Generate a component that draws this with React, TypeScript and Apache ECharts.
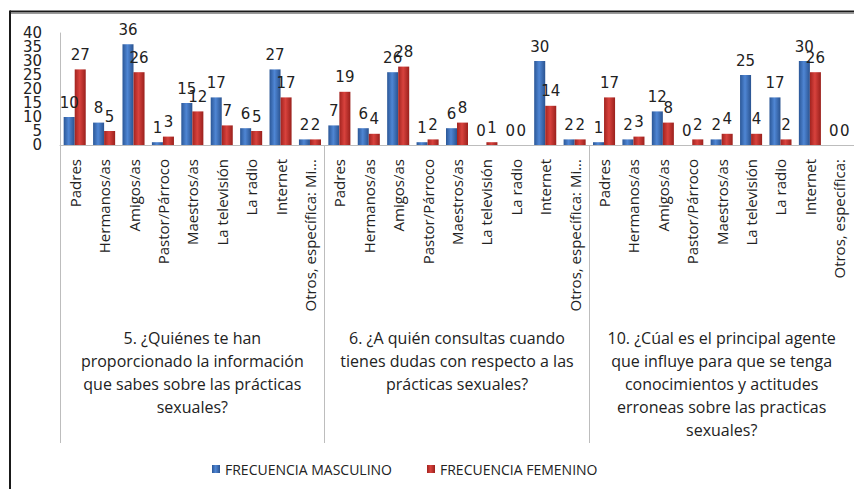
import React, { useEffect, useRef } from "react";
import * as echarts from "echarts";

const categories = [
  "Padres", "Hermanos/as", "Amigos/as", "Pastor/Párroco", "Maestros/as", "La televisión", "La radio", "Internet", "Otros, específica: Mi...",
  "Padres", "Hermanos/as", "Amigos/as", "Pastor/Párroco", "Maestros/as", "La televisión", "La radio", "Internet", "Otros, específica: Mi...",
  "Padres", "Hermanos/as", "Amigos/as", "Pastor/Párroco", "Maestros/as", "La televisión", "La radio", "Internet", "Otros, específica:",
];

const groups = [
  "5. ¿Quiénes te han\nproporcionado la información\nque sabes sobre las prácticas\nsexuales?",
  "6. ¿A quién consultas cuando\ntienes dudas con respecto a las\nprácticas sexuales?",
  "10. ¿Cúal es el principal agente\nque influye para que se tenga\nconocimientos y actitudes\nerroneas sobre las practicas\nsexuales?",
];

const masculino = [10, 8, 36, 1, 15, 17, 6, 27, 2, 7, 6, 26, 1, 6, 0, 0, 30, 2, 1, 2, 12, 0, 2, 25, 17, 30, 0];
const femenino = [27, 5, 26, 3, 12, 7, 5, 17, 2, 19, 4, 28, 2, 8, 1, 0, 14, 2, 17, 3, 8, 2, 4, 4, 2, 26, 0];

const yTicks = { min: 0, max: 40, interval: 5 };
// labels next to the ends, which ECharts would otherwise drop as overlapping
const yInnerTicks = [5, 35];

const textFont = "'Open Sans', sans-serif";
const numFont = "'DejaVu Sans', sans-serif";

const blueGrad = new echarts.graphic.LinearGradient(0, 0, 1, 0, [
  { offset: 0, color: "#2b5797" },
  { offset: 0.45, color: "#4f86d4" },
  { offset: 1, color: "#2a5390" },
]);
const redGrad = new echarts.graphic.LinearGradient(0, 0, 1, 0, [
  { offset: 0, color: "#a2231f" },
  { offset: 0.45, color: "#d8423d" },
  { offset: 1, color: "#9a201c" },
]);

export default function App() {
  const ref = useRef<HTMLDivElement>(null);
  useEffect(() => {
    if (!ref.current) return;
    const chart = echarts.init(ref.current, null, { renderer: "svg" });
    const labelStyle = {
      show: true,
      position: "top" as const,
      distance: 7,
      fontFamily: numFont,
      fontSize: 15,
      color: "#222",
    };
    const yLabel = {
      fontFamily: numFont,
      fontSize: 15,
      color: "#222",
      margin: 18,
      hideOverlap: false,
    };
    chart.setOption({
      animation: false,
      backgroundColor: "#fff",
      grid: { left: 60, right: 0, top: 33, bottom: 344, containLabel: false },
      legend: {
        top: 457,
        left: 207,
        icon: "rect",
        itemWidth: 8,
        itemHeight: 8,
        itemGap: 35,
        textStyle: { fontFamily: textFont, fontSize: 14, color: "#222" },
        data: ["FRECUENCIA MASCULINO", "FRECUENCIA FEMENINO"],
      },
      xAxis: [
        {
          type: "category",
          data: categories,
          axisLine: { show: true, lineStyle: { color: "#bdbdbd", width: 1 } },
          axisTick: { show: false },
          axisLabel: {
            interval: 0,
            rotate: 90,
            margin: 14,
            fontFamily: textFont,
            fontSize: 15,
            color: "#222",
          },
        },
        {
          type: "category",
          data: groups,
          position: "bottom",
          axisLine: { show: false },
          axisTick: { show: true, length: 298, interval: 0, lineStyle: { color: "#bdbdbd" } },
          axisLabel: {
            interval: 0,
            margin: 181,
            fontFamily: textFont,
            fontSize: 16,
            lineHeight: 23,
            color: "#222",
            align: "center",
          },
        },
      ],
      yAxis: [
        {
          type: "value",
          min: yTicks.min,
          max: yTicks.max,
          interval: yTicks.interval,
          splitLine: { show: false },
          axisLine: { show: true, lineStyle: { color: "#bdbdbd" } },
          axisTick: { show: false },
          axisLabel: {
            ...yLabel,
            showMinLabel: true,
            showMaxLabel: true,
            formatter: (v: number) => (yInnerTicks.includes(v) ? "" : String(v)),
          },
        },
        {
          type: "value",
          position: "left",
          min: yTicks.min,
          max: yTicks.max,
          interval: yTicks.interval,
          splitLine: { show: false },
          axisLine: { show: false },
          axisTick: { show: false },
          axisLabel: {
            ...yLabel,
            showMinLabel: false,
            showMaxLabel: false,
            formatter: (v: number) => (yInnerTicks.includes(v) ? String(v) : ""),
          },
        },
      ],
      series: [
        {
          name: "FRECUENCIA MASCULINO",
          type: "bar",
          xAxisIndex: 0,
          yAxisIndex: 0,
          data: masculino,
          barCategoryGap: "25%",
          barGap: "0%",
          itemStyle: { color: blueGrad },
          label: labelStyle,
        },
        {
          name: "FRECUENCIA FEMENINO",
          type: "bar",
          xAxisIndex: 0,
          yAxisIndex: 0,
          data: femenino,
          barCategoryGap: "25%",
          barGap: "0%",
          itemStyle: { color: redGrad },
          label: labelStyle,
        },
      ],
      graphic: [
        { type: "line", shape: { x1: 10, y1: 11.5, x2: 854, y2: 11.5 }, style: { stroke: "#1a1a1a", lineWidth: 2 } },
        { type: "line", shape: { x1: 11, y1: 13.5, x2: 854, y2: 13.5 }, style: { stroke: "#9a9a9a", lineWidth: 1 } },
        { type: "line", shape: { x1: 10, y1: 10.5, x2: 10, y2: 489 }, style: { stroke: "#1a1a1a", lineWidth: 2 } },
      ],
    });
    return () => chart.dispose();
  }, []);
  return (
    <div
      ref={ref}
      style={{ position: "fixed", left: 0, top: 0, width: 854, height: 489 }}
    />
  );
}
